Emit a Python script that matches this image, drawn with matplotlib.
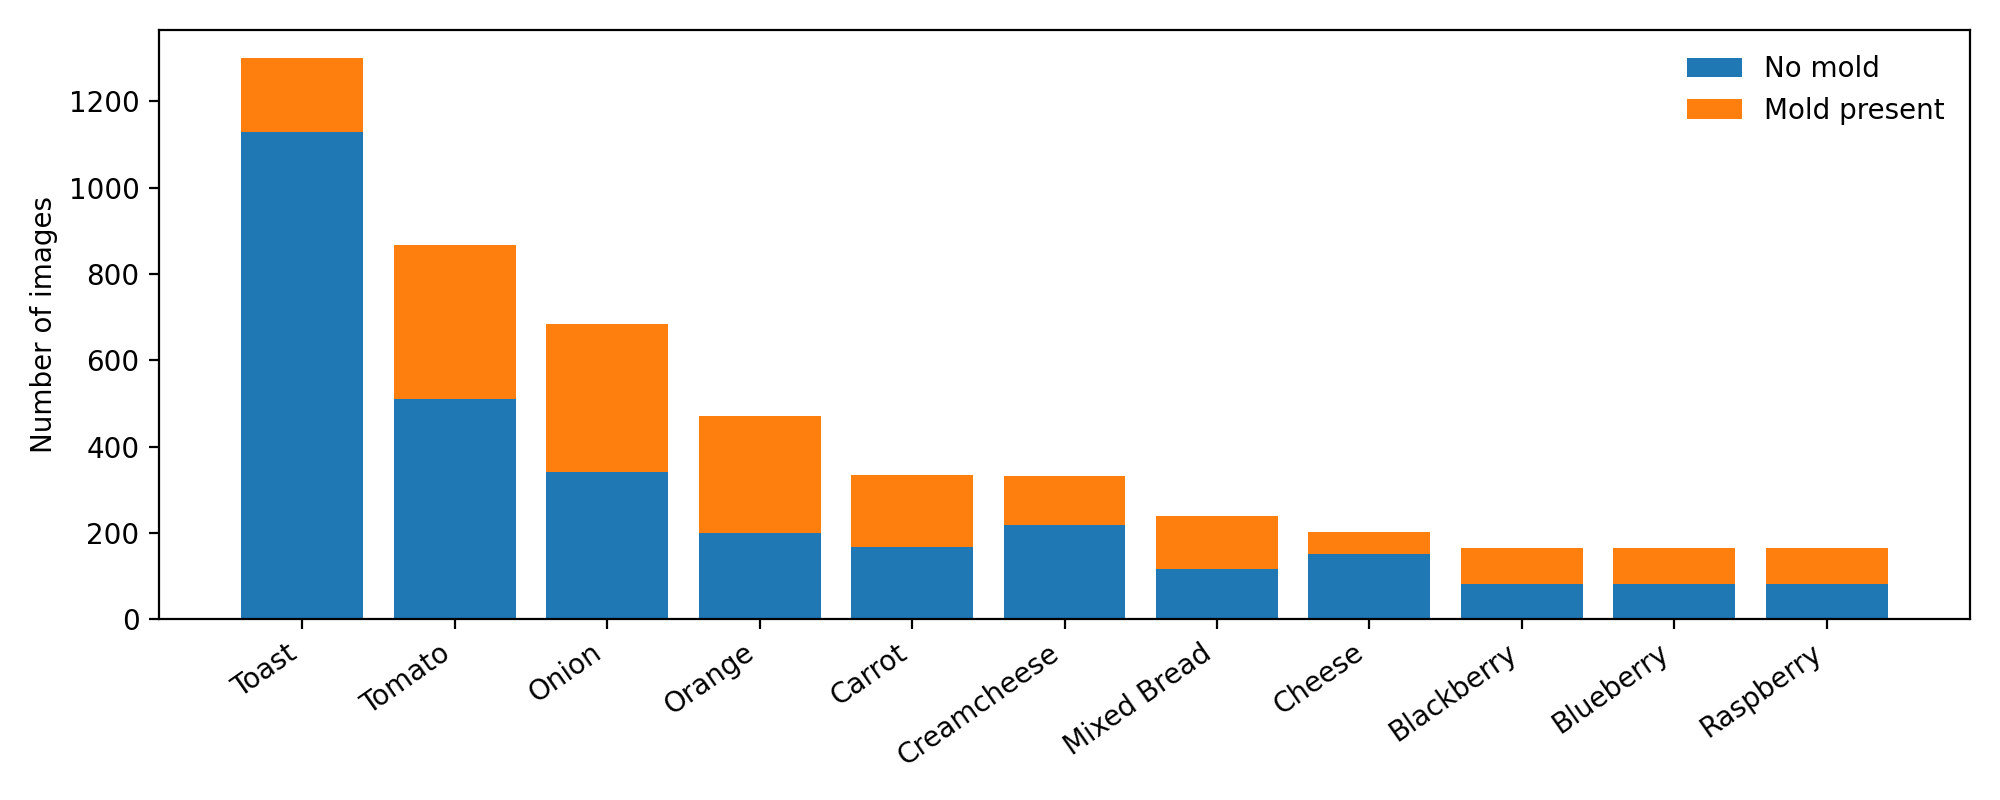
import matplotlib
matplotlib.use("Agg")
import matplotlib.pyplot as plt

# Image counts per food category
categories = ["Toast", "Tomato", "Onion", "Orange", "Carrot", "Creamcheese",
              "Mixed Bread", "Cheese", "Blackberry", "Blueberry", "Raspberry"]
no_mold = [1128, 510, 341, 199, 167, 219, 117, 152, 81, 81, 81]
mold_present = [172, 356, 344, 272, 168, 112, 121, 49, 85, 85, 85]

fig, ax = plt.subplots(figsize=(10, 4), dpi=200)
ax.bar(categories, no_mold, label="No mold")
ax.bar(categories, mold_present, bottom=no_mold, label="Mold present")
ax.set_ylabel("Number of images")
plt.setp(ax.get_xticklabels(), rotation=35, ha="right")
ax.legend(frameon=False, loc="upper right")

plt.subplots_adjust(left=0.0795, right=0.985, top=0.9625, bottom=0.226)
plt.savefig("out.png")
